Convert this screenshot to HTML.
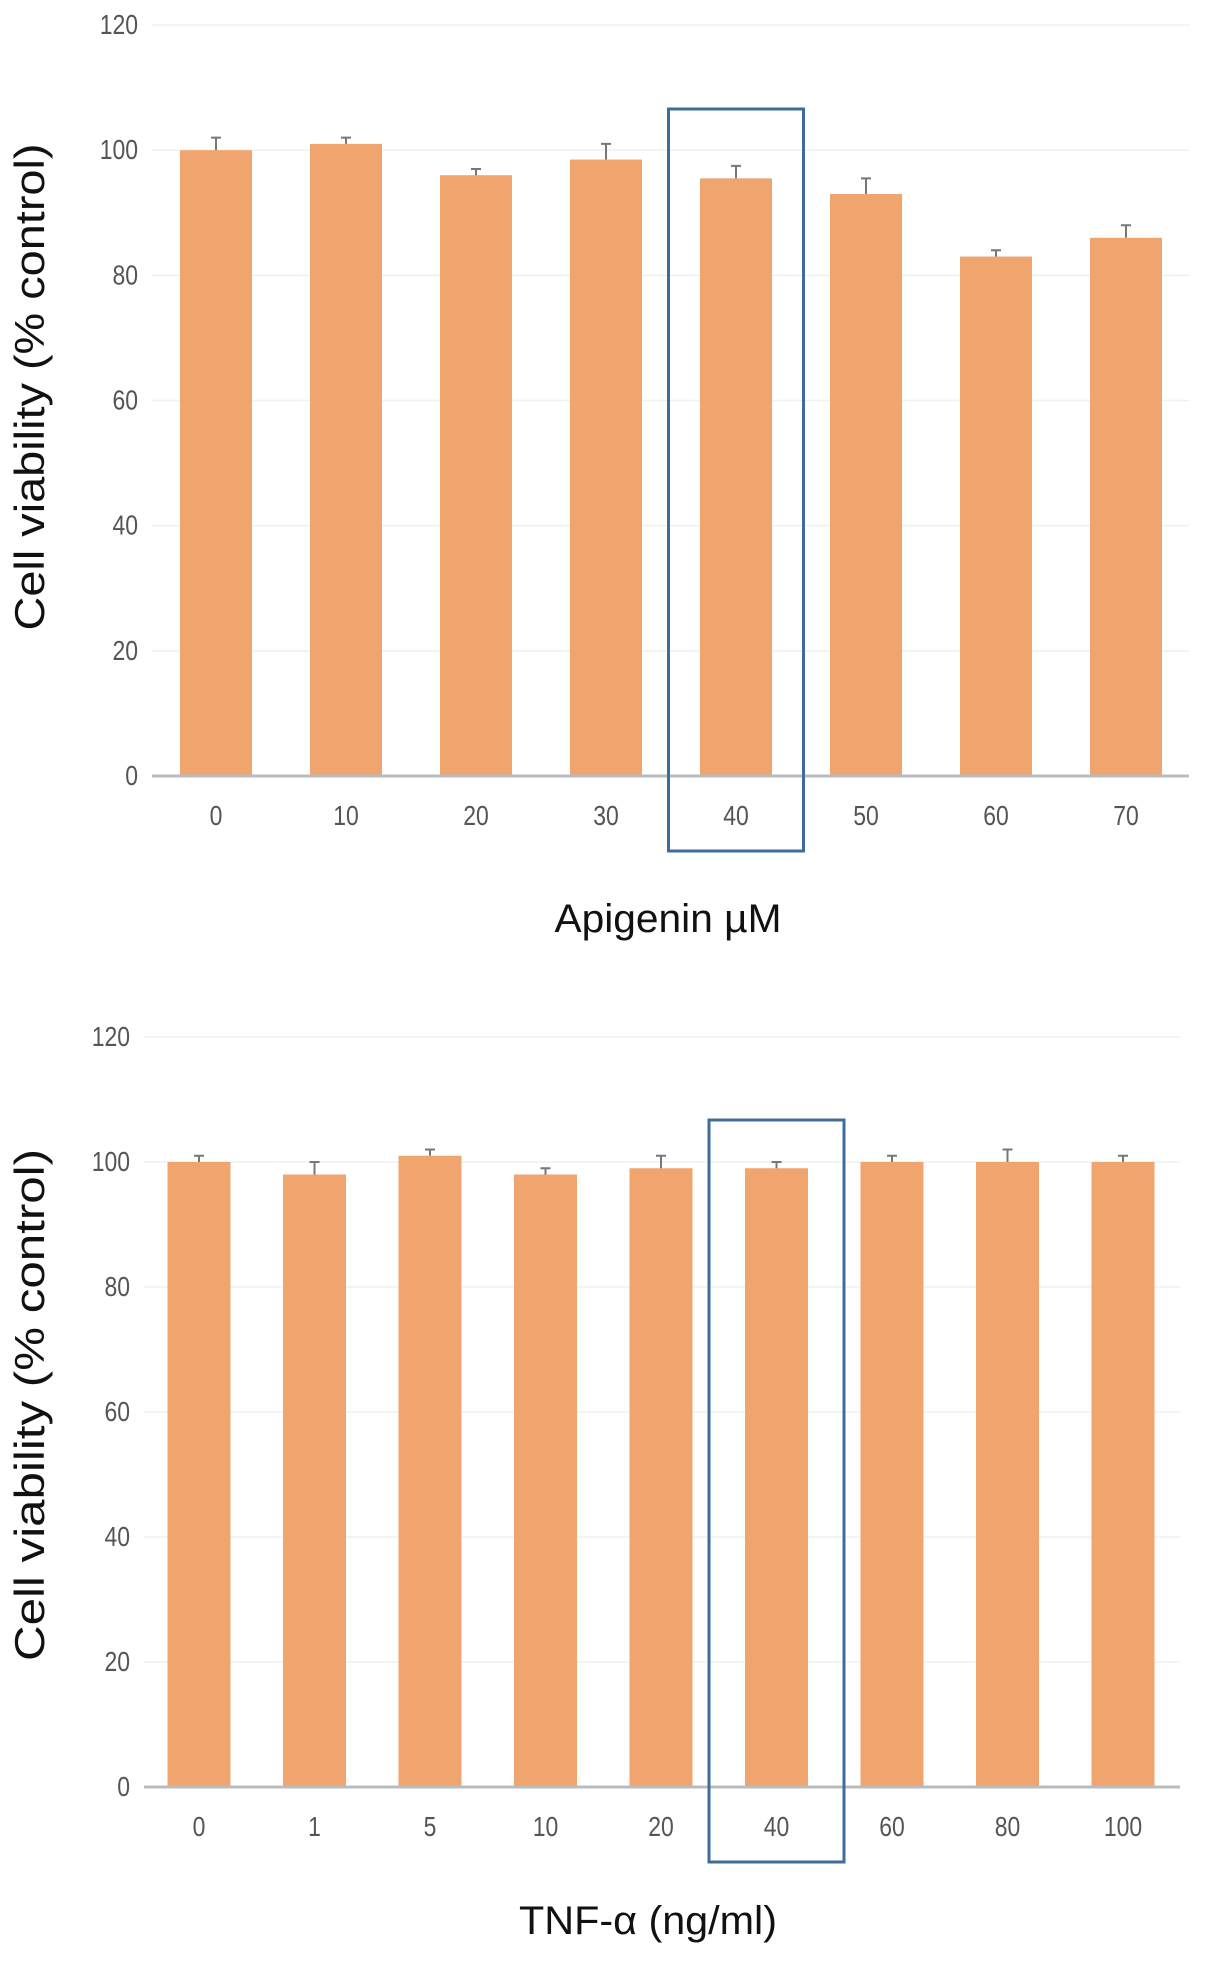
<!DOCTYPE html>
<html><head><meta charset="utf-8"><style>
html,body{margin:0;padding:0;background:#fff;}
svg{display:block;}
text{font-family:"Liberation Sans",sans-serif;}
</style></head><body>
<svg id="chart" width="1205" height="1961" viewBox="0 0 1205 1961" xmlns="http://www.w3.org/2000/svg"></svg>
<script>
const catsA = ["0","10","20","30","40","50","60","70"];
const valsA = [100,101,96,98.5,95.5,93,83,86];
const errsA = [2,1,1,2.5,2,2.5,1,2];
const catsB = ["0","1","5","10","20","40","60","80","100"];
const valsB = [100,98,101,98,99,99,100,100,100];
const errsB = [1,2,1,1,2,1,1,2,1];
const yTicks = [0,20,40,60,80,100,120];

const svg = document.getElementById('chart');
const NS = "http://www.w3.org/2000/svg";
function mk(tag, attrs, parent){
  const e = document.createElementNS(NS, tag);
  for (const k in attrs) e.setAttribute(k, attrs[k]);
  (parent||svg).appendChild(e);
  return e;
}
function drawChart(cfg, cats, vals, errs){
  const g = mk('g', {});
  
  
  const y = v => cfg.y0 + (cfg.y120 - cfg.y0) * v / 120;
  const x = i => cfg.x0 + i * cfg.step;
  yTicks.forEach(t => {
    if (t > 0) {
      const gl = mk('line', {x1:cfg.left, x2:cfg.right, y1:y(t), y2:y(t), stroke:'#f0f0f0', 'stroke-width':1.5}, g);
      
      
    }
    const tl = mk('text', {x:cfg.left-14, y:y(t)+9, 'text-anchor':'end', 'font-size':28, fill:'#555', transform:`translate(${cfg.left-14} 0) scale(0.82 1) translate(${-(cfg.left-14)} 0)`}, g);
    tl.textContent = t;
    
    
  });
  vals.forEach((v, i) => {
    const b = mk('rect', {x:x(i)-cfg.bw/2, y:y(v), width:cfg.bw, height:y(0)-y(v), fill:'#F0A46E'}, g);
    
    
    const e = mk('path', {d:`M${x(i)} ${y(v)} V${y(v+errs[i])} M${x(i)-5} ${y(v+errs[i])} H${x(i)+5}`, stroke:'#777', 'stroke-width':2, fill:'none'}, g);
    
    
    const l = mk('text', {x:x(i), y:cfg.labelY, 'text-anchor':'middle', 'font-size':28, fill:'#555', transform:`translate(${x(i)} 0) scale(0.82 1) translate(${-x(i)} 0)`}, g);
    l.textContent = cats[i];
    
    
  });
  const ax = mk('line', {x1:cfg.left, x2:cfg.right, y1:y(0), y2:y(0), stroke:'#b8bcc0', 'stroke-width':3}, g);
  
  
  const hi = cfg.hl;
  const box = mk('rect', {x:x(hi)-cfg.boxW/2, y:cfg.boxTop, width:cfg.boxW, height:cfg.boxBot-cfg.boxTop, fill:'none', stroke:'#3f6c9a', 'stroke-width':3}, g);
  
  
  const xt = mk('text', {x:cfg.xtX, y:cfg.xtY, 'text-anchor':'middle', 'font-size':40, fill:'#111', textLength:cfg.xtLen, lengthAdjust:'spacingAndGlyphs'}, g);
  xt.textContent = cfg.xTitle;
  
  
  const yc = cfg.ytC;
  const yt = mk('text', {x:0, y:0, 'text-anchor':'middle', 'font-size':42, fill:'#111', textLength:cfg.ytLen, lengthAdjust:'spacingAndGlyphs', transform:`translate(44 ${yc}) rotate(-90)`}, g);
  yt.textContent = 'Cell viability (% control)';
  
  
}
drawChart({name:'apigenin-chart', y0:776, y120:25, left:152, right:1189, x0:216, step:130, bw:72,
  labelY:825, hl:4, boxW:135, boxTop:109, boxBot:851, xTitle:'Apigenin µM', xtX:668, xtY:932, xtLen:227,
  ytC:387, ytLen:487}, catsA, valsA, errsA);
drawChart({name:'tnf-chart', y0:1787, y120:1037, left:144, right:1180, x0:199, step:115.5, bw:63,
  labelY:1836, hl:5, boxW:135, boxTop:1120, boxBot:1862, xTitle:'TNF-α (ng/ml)', xtX:648, xtY:1934, xtLen:258,
  ytC:1405, ytLen:512}, catsB, valsB, errsB);
</script>
</body></html>
